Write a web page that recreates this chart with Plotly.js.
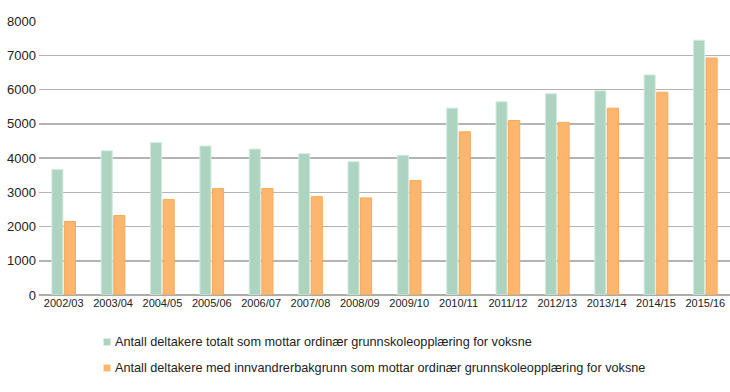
<!DOCTYPE html>
<html>
<head>
<meta charset="utf-8">
<script src="https://cdn.plot.ly/plotly-3.0.1.min.js"></script>
<style>html,body{margin:0;padding:0;background:#fff;}#chart{width:730px;height:392px;}</style>
</head>
<body>
<div id="chart"></div>
<script>
const categories = ["2002/03","2003/04","2004/05","2005/06","2006/07","2007/08","2008/09","2009/10","2010/11","2011/12","2012/13","2013/14","2014/15","2015/16"];
const totalValues = [3660,4210,4450,4350,4260,4125,3890,4080,5455,5640,5875,5960,6425,7440];
const immigrantValues = [2145,2320,2785,3105,3110,2870,2835,3340,4765,5095,5040,5455,5920,6920];
const seriesNames = ["Antall deltakere totalt som mottar ordinær grunnskoleopplæring for voksne","Antall deltakere med innvandrerbakgrunn som mottar ordinær grunnskoleopplæring for voksne"];
const seriesColors = ['#acd4c1','#fdb66e'];
const yTicks = [0,1000,2000,3000,4000,5000,6000,7000,8000];

const W = 730, H = 392;
const M = {l:39, r:0, t:21, b:97};
const pw = W - M.l - M.r, ph = H - M.t - M.b;
const px = v => (v - M.l) / pw;
const py = v => (H - M.b - v) / ph;

const traces = [
  {type:'bar', x:categories, y:totalValues, name:seriesNames[0], showlegend:false,
   marker:{color:seriesColors[0], line:{color:'#d2eadf', width:1}}},
  {type:'bar', x:categories, y:immigrantValues, name:seriesNames[1], showlegend:false,
   marker:{color:seriesColors[1], line:{color:'#f9a85a', width:1}}}
];

const legendRows = [342, 368];
const shapes = [], annotations = [];
seriesNames.forEach((name, i) => {
  const cy = legendRows[i];
  shapes.push({type:'rect', xref:'paper', yref:'paper', x0:px(103.5), x1:px(110.5), y0:py(cy+3.5), y1:py(cy-3.5),
               fillcolor:seriesColors[i], line:{width:0}});
  annotations.push({xref:'paper', yref:'paper', x:px(113), y:py(cy), xanchor:'left', yanchor:'middle',
                    text:name, showarrow:false, font:{size:12.7, color:'#222'}});
});

const layout = {
  width:W, height:H, margin:M,
  paper_bgcolor:'#fff', plot_bgcolor:'#fff',
  font:{family:'"Liberation Sans", Arial, sans-serif', color:'#222'},
  barmode:'group', bargap:0.49, bargroupgap:0.12,
  showlegend:false, shapes:shapes, annotations:annotations,
  xaxis:{type:'category', tickfont:{size:11, color:'#222'}, showgrid:false, ticks:'', showline:false, zeroline:false},
  yaxis:{range:[0,8000], tickvals:yTicks, ticktext:yTicks.map(String), tickfont:{size:13, color:'#222'},
         showgrid:true, gridcolor:'#b4b4b4', gridwidth:1.5, zeroline:true, zerolinecolor:'#acacac', zerolinewidth:1.5,
         ticks:'', ticklabelstandoff:2, showline:false}
};
Plotly.newPlot('chart', traces, layout, {displayModeBar:false, staticPlot:true});
</script>
</body>
</html>
